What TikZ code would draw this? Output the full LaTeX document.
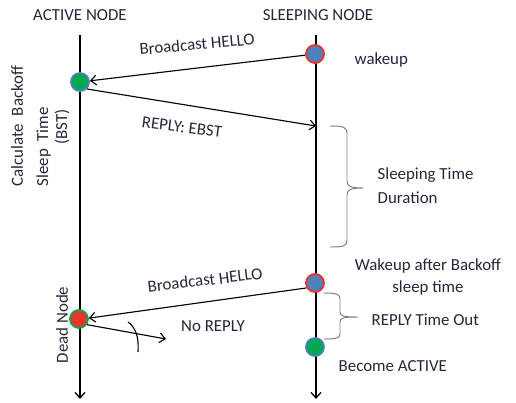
\documentclass[tikz,border=0pt]{standalone}
\usepackage{fontspec}
\setmainfont{Carlito}
\usepackage{tikz}
\usetikzlibrary{arrows.meta,calc}
\definecolor{txtcol}{RGB}{38,38,58}
\definecolor{offblue}{RGB}{79,129,189}
\definecolor{offred}{RGB}{232,52,44}
\definecolor{offgreen}{RGB}{0,168,80}

\begin{document}
\begin{tikzpicture}[x=0.025cm,y=-0.025cm,font=\fontsize{12}{14}\selectfont,
  >={Straight Barb[length=4pt,width=7pt]},
  lbl/.style={text=txtcol,inner sep=1pt},
  life/.style={line width=0.9pt,->},
  msg/.style={line width=0.8pt,->},
  brace/.style={draw=black!50,line width=0.7pt},
  dot/.style={circle,minimum size=0.45cm,inner sep=0pt,line width=1.3pt},
  sleepdot/.style={dot,draw=offred,fill=offblue},
  activedot/.style={dot,draw=offblue,fill=offgreen},
  deaddot/.style={dot,draw=offgreen,fill=offred}]
\useasboundingbox (0,0) rectangle (516,403);
% lifelines
\coordinate (atop) at (80,35);
\coordinate (abot) at (80,399);
\coordinate (stop) at (316,35);
\coordinate (sbot) at (316,399);
\draw[life] (atop) -- (abot);
\draw[life] (stop) -- (sbot);
\node[lbl] (ahead) at (80,15) {ACTIVE NODE};
\node[lbl] (shead) at (318,15) {SLEEPING NODE};
% events
\node[sleepdot] (w1) at (315,54) {};
\node[activedot] (a1) at (80,82) {};
\node[sleepdot] (w2) at (315,283) {};
\node[deaddot] (d1) at (79,319) {};
\node[activedot] (b1) at (315,347) {};
\coordinate (r1) at (316,126);
\coordinate (n1) at (166,339);
% messages
\draw[msg] (w1) -- (a1);
\node[lbl,rotate=5] (hello1) at (197,44) {Broadcast HELLO};
\draw[msg] (a1.-45) -- (r1);
\node[lbl,rotate=-7] (reply) at (182,127) {REPLY: EBST};
\draw[msg] (w2.210) -- (d1.5);
\node[lbl,rotate=7] (hello2) at (205,280) {Broadcast HELLO};
\draw[msg] (d1.-35) -- (n1);
\draw[line width=0.8pt] (128,322) .. controls (136,328) and (139,337) .. (138,352);
\node[lbl] (noreply) at (213,326) {No REPLY};
% side notes
\node[lbl,anchor=west] (wake) at (353,60) {wakeup};
\node[lbl,align=center] (wake2) at (428,277) {Wakeup after Backoff\\[1pt]sleep time};
\node[lbl,anchor=west,align=left] (sleeping) at (376,186) {Sleeping Time\\[3pt]Duration};
\node[lbl,anchor=west] (timeout) at (370,320) {REPLY Time Out};
\node[lbl,anchor=west] (become) at (337,366) {Become ACTIVE};
\node[lbl,rotate=90,anchor=west,align=left] (calc) at (31,188) {Calculate\ \ Backoff\\[4pt]Sleep\ \ Time};
\node[lbl,rotate=90] (bst) at (62,127) {(BST)};
\node[lbl,rotate=90] (dead) at (62,325) {Dead Node};
% braces
\draw[brace] (330,126) .. controls (344,126) and (347,127) .. (347,134) -- (347,181)
  .. controls (347,186) and (350,188) .. (363,188) .. controls (350,188) and (347,190) .. (347,195)
  -- (347,240) .. controls (347,246) and (344,247) .. (330,247);
\draw[brace] (324,293) .. controls (336,293) and (340,294) .. (340,299) -- (340,312)
  .. controls (340,316) and (343,317) .. (358,317) .. controls (343,317) and (340,318) .. (340,322)
  -- (340,334) .. controls (340,338) and (336,339) .. (324,339);
\end{tikzpicture}
\end{document}
